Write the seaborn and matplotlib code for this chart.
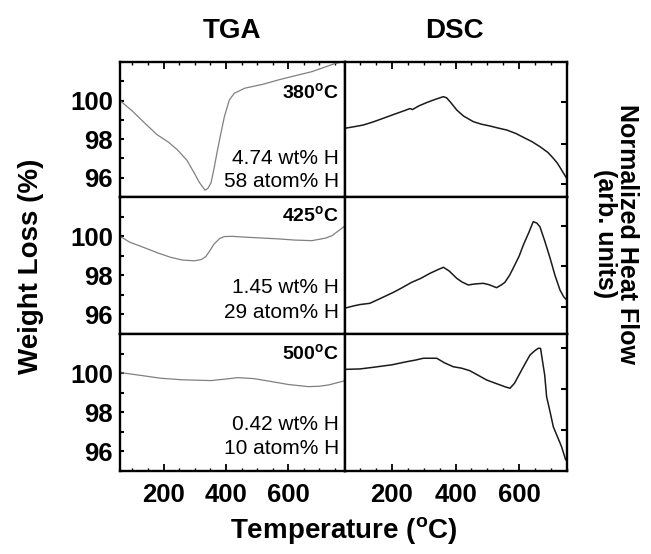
import matplotlib
matplotlib.use("Agg")
import matplotlib.pyplot as plt
from matplotlib.ticker import MultipleLocator
import numpy as np
import pandas as pd
import seaborn as sns

# ---- TGA data (temperature in degC, weight in %) ----
tga_T_380 = [60, 100, 135, 179, 215, 244, 275, 298, 315, 333, 342, 352, 362, 373, 385, 395,
             411, 427, 460, 520, 568, 620, 676, 746, 782]
tga_W_380 = [100.0, 99.45, 98.9, 98.23, 97.85, 97.45, 96.9, 96.25, 95.75, 95.35, 95.45, 95.73,
             96.5, 97.45, 98.4, 99.17, 100.04, 100.38, 100.64, 100.85, 101.07, 101.28, 101.5,
             101.9, 102.05]

tga_T_425 = [60, 90, 135, 180, 222, 260, 298, 320, 335, 350, 362, 380, 395, 420, 460, 520,
             568, 620, 676, 720, 741, 784]
tga_W_425 = [100.0, 99.7, 99.43, 99.15, 98.92, 98.78, 98.74, 98.8, 98.95, 99.3, 99.6, 99.88,
             99.98, 99.99, 99.95, 99.9, 99.86, 99.8, 99.77, 99.9, 100.03, 100.55]

tga_T_500 = [60, 120, 190, 260, 352, 400, 438, 490, 546, 600, 665, 700, 730, 784]
tga_W_500 = [100.03, 99.9, 99.74, 99.66, 99.62, 99.7, 99.77, 99.72, 99.57, 99.42, 99.31,
             99.33, 99.4, 99.62]

# ---- DSC data (temperature in degC, normalized heat flow, arb. units) ----
dsc_T_380 = [55, 80, 110, 140, 173, 210, 240, 257, 265, 285, 310, 335, 355, 362, 372, 385,
             404, 425, 456, 480, 508, 535, 561, 590, 613, 640, 665, 690, 707, 720, 733, 749]
dsc_H_380 = [0.51, 0.52, 0.533, 0.555, 0.583, 0.615, 0.64, 0.655, 0.648, 0.675, 0.70, 0.722,
             0.738, 0.743, 0.735, 0.70, 0.644, 0.60, 0.558, 0.54, 0.526, 0.51, 0.496, 0.47,
             0.442, 0.41, 0.373, 0.33, 0.287, 0.25, 0.20, 0.138]

dsc_T_425 = [55, 80, 100, 131, 160, 205, 230, 262, 290, 320, 345, 362, 380, 404, 420, 440,
             460, 487, 505, 529, 545, 555, 570, 581, 600, 613, 630, 644, 655, 665, 680, 697,
             712, 728, 740, 749]
dsc_H_425 = [0.19, 0.205, 0.215, 0.224, 0.255, 0.304, 0.335, 0.377, 0.405, 0.443, 0.47, 0.487,
             0.46, 0.406, 0.38, 0.358, 0.365, 0.37, 0.36, 0.338, 0.36, 0.377, 0.43, 0.48,
             0.57, 0.65, 0.74, 0.82, 0.81, 0.783, 0.68, 0.553, 0.43, 0.321, 0.27, 0.248]

dsc_T_500 = [55, 100, 142, 200, 247, 275, 299, 341, 365, 393, 420, 445, 470, 498, 520, 540,
             555, 571, 585, 602, 620, 634, 650, 660, 667, 671, 680, 686, 697, 707, 720, 733,
             746]
dsc_H_500 = [0.742, 0.745, 0.757, 0.775, 0.798, 0.81, 0.823, 0.823, 0.79, 0.761, 0.75, 0.732,
             0.70, 0.664, 0.645, 0.628, 0.615, 0.604, 0.64, 0.713, 0.79, 0.847, 0.88, 0.896,
             0.895, 0.834, 0.70, 0.542, 0.43, 0.323, 0.25, 0.177, 0.08]

anneal_labels = ["380", "425", "500"]
wt_labels = ["4.74 wt% H", "1.45 wt% H", "0.42 wt% H"]
atom_labels = ["58 atom% H", "29 atom% H", "10 atom% H"]

tga_series = [(tga_T_380, tga_W_380), (tga_T_425, tga_W_425), (tga_T_500, tga_W_500)]
dsc_series = [(dsc_T_380, dsc_H_380), (dsc_T_425, dsc_H_425), (dsc_T_500, dsc_H_500)]

weight_ticks = [96, 98, 100]
dsc_ticks = [[0.094, 0.39, 0.70], [0.20, 0.50, 0.79], [0.30, 0.60, 0.90]]
temp_ticks = [200, 400, 600]

sns.set_style("ticks")
plt.rcParams["font.family"] = ["Liberation Sans", "DejaVu Sans"]
plt.rcParams["mathtext.fontset"] = "custom"
plt.rcParams["mathtext.rm"] = "Liberation Sans"
plt.rcParams["mathtext.bf"] = "Liberation Sans:bold"
for key in ("text.color", "axes.labelcolor", "xtick.color", "ytick.color"):
    plt.rcParams[key] = "black"

fig = plt.figure(figsize=(6.51, 5.54), dpi=100)
fig.patch.set_facecolor("white")

W, H = 651.0, 554.0
rows_px = [(62, 197), (197, 334), (334, 471)]
left_px = (120, 345)
right_px = (345, 567)

label_pos = [(0.774, 0.287, 0.114), (0.863, 0.34, 0.157), (0.854, 0.336, 0.162)]

for i, (top, bot) in enumerate(rows_px):
    b = (H - bot) / H
    h = (bot - top) / H
    axl = fig.add_axes([left_px[0] / W, b, (left_px[1] - left_px[0]) / W, h])
    axr = fig.add_axes([right_px[0] / W, b, (right_px[1] - right_px[0]) / W, h])

    # TGA curve
    df_t = pd.DataFrame({"T": tga_series[i][0], "W": tga_series[i][1]})
    sns.lineplot(data=df_t, x="T", y="W", ax=axl, color="#808080", linewidth=0.9,
                 sort=False, estimator=None)
    axl.set_xlim(60, 782)
    axl.set_ylim(95, 102)
    axl.set_yticks(weight_ticks)
    axl.yaxis.set_minor_locator(MultipleLocator(1))
    axl.xaxis.set_major_locator(plt.FixedLocator(temp_ticks))
    axl.xaxis.set_minor_locator(MultipleLocator(50))

    # DSC curve
    df_d = pd.DataFrame({"T": dsc_series[i][0], "H": dsc_series[i][1]})
    sns.lineplot(data=df_d, x="T", y="H", ax=axr, color="#1a1a1a", linewidth=1.1,
                 sort=False, estimator=None)
    axr.set_xlim(53, 750)
    axr.set_ylim(0, 1)
    axr.xaxis.set_major_locator(plt.FixedLocator(temp_ticks))
    axr.xaxis.set_minor_locator(MultipleLocator(50))

    for ax in (axl, axr):
        ax.set_xlabel("")
        ax.set_ylabel("")
        for sp in ax.spines.values():
            sp.set_visible(True)
            sp.set_linewidth(1.7)
            sp.set_color("black")
        ax.set_facecolor("white")

    show_top = (i == 0)
    show_bot = (i == 2)
    axl.tick_params(axis="y", which="both", direction="in", left=True, right=False,
                    labelleft=True, length=3, width=1.5, labelsize=18.5, pad=5)
    for lab in axl.get_yticklabels():
        lab.set_fontweight("bold")
    axr.set_yticks(dsc_ticks[i])
    axr.set_yticks([], minor=True)
    axr.tick_params(axis="y", which="both", direction="in", left=False, right=True,
                    labelleft=False, labelright=False, length=4, width=1.5)

    for ax in (axl, axr):
        ax.tick_params(axis="x", which="major", direction="in", top=show_top,
                       bottom=show_bot, labelbottom=show_bot, labeltop=False,
                       length=5, width=1.3, labelsize=18.5, pad=9)
        ax.tick_params(axis="x", which="minor", direction="in", top=show_top,
                       bottom=show_bot, length=2.5, width=1.0)
        for lab in ax.get_xticklabels():
            lab.set_fontweight("bold")

    ya, yb, yc = label_pos[i]
    axl.text(0.975, ya, anneal_labels[i] + r"$^{\mathbf{o}}$C", transform=axl.transAxes,
             ha="right", va="center", fontsize=14, fontweight="bold")
    axl.text(0.975, yb, wt_labels[i], transform=axl.transAxes, ha="right", va="center",
             fontsize=15)
    axl.text(0.975, yc, atom_labels[i], transform=axl.transAxes, ha="right", va="center",
             fontsize=15)

fig.text(232 / W, (H - 31) / H, "TGA", ha="center", va="center", fontsize=20,
         fontweight="bold")
fig.text(454 / W, (H - 31) / H, "DSC", ha="center", va="center", fontsize=20,
         fontweight="bold")
fig.text(31 / W, (H - 266) / H, "Weight Loss (%)", rotation=90, ha="center", va="center",
         fontsize=20, fontweight="bold")
fig.text(616 / W, (H - 234) / H, "Normalized Heat Flow\n(arb. units)", rotation=-90,
         ha="center", va="center", fontsize=18, fontweight="bold", multialignment="center",
         linespacing=0.85)
fig.text(344 / W, (H - 530) / H, r"Temperature ($\mathbf{^{o}}$C)", ha="center",
         va="center", fontsize=20, fontweight="bold")

fig.savefig("out.png", dpi=100, facecolor="white")
